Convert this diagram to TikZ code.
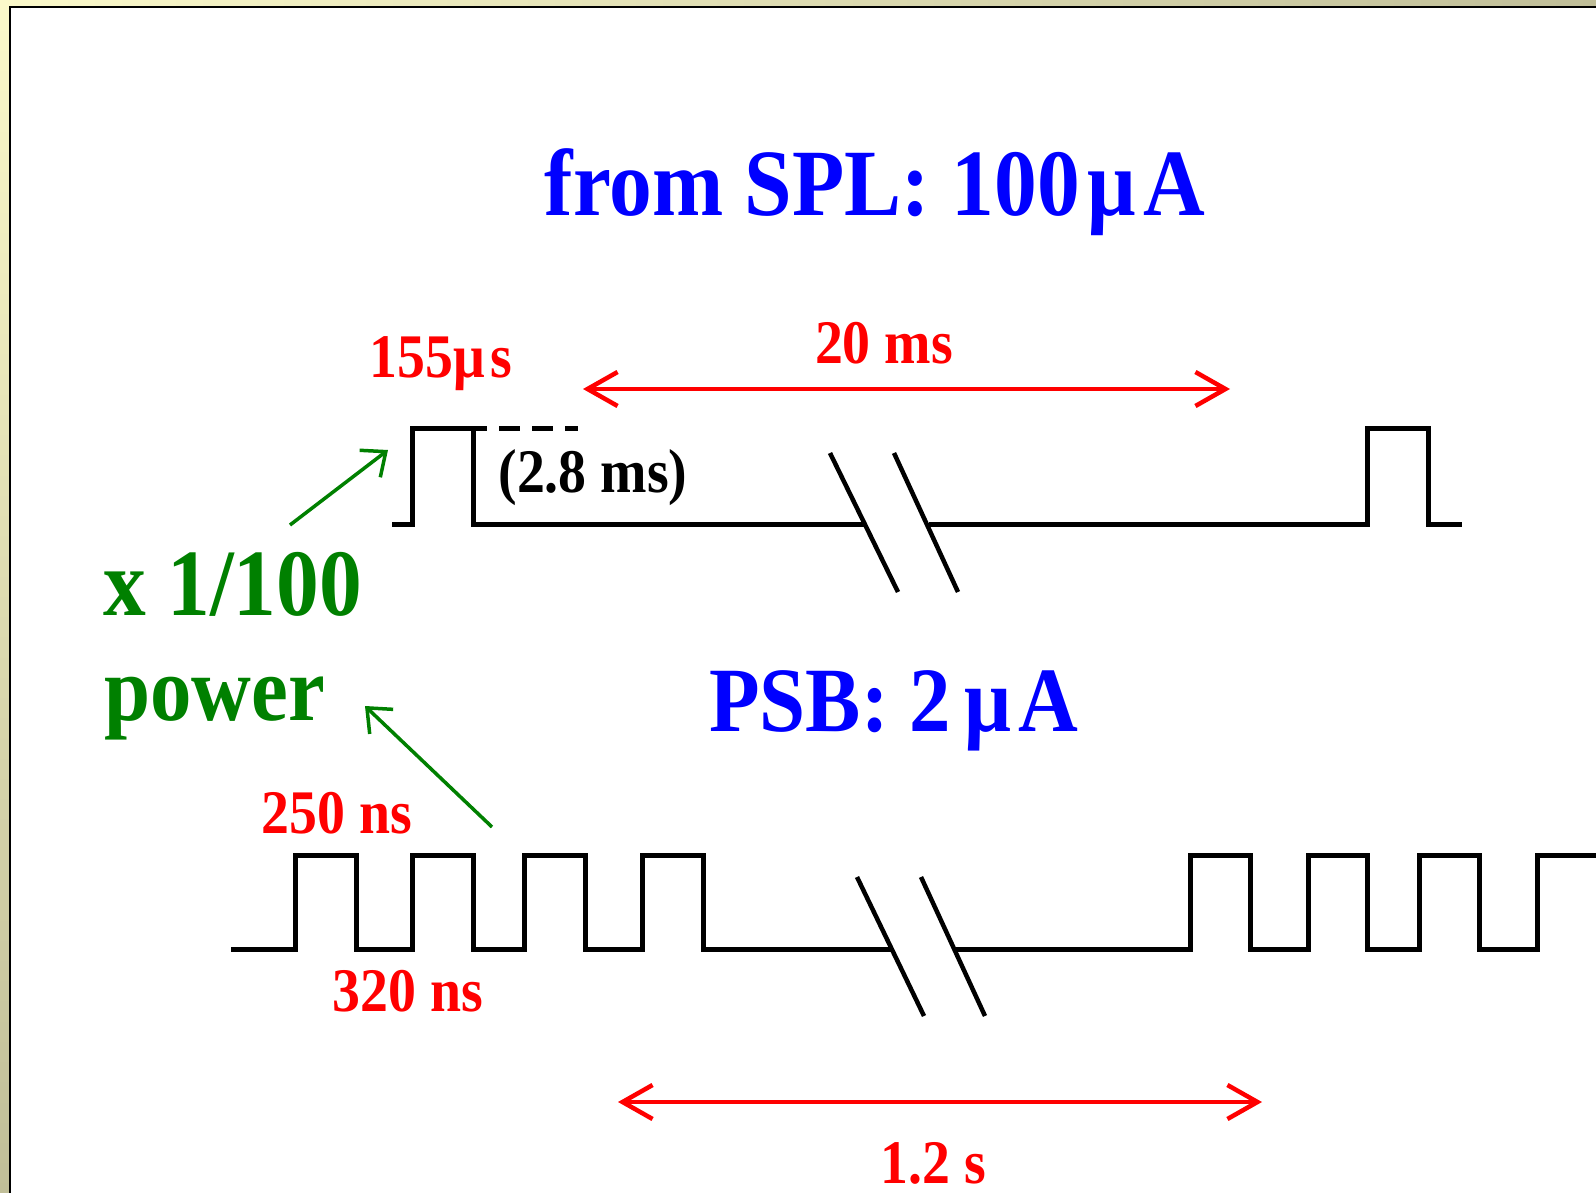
\documentclass[tikz,border=0pt]{standalone}
\usepackage{fontspec}
\setmainfont[FakeStretch=0.9]{Liberation Serif}
\usepackage{xcolor}
\usepackage{tikz}
\usetikzlibrary{calc,arrows.meta}

\definecolor{paleyel}{HTML}{FBF9CA}
\definecolor{olive}{HTML}{C0BE98}
\definecolor{darkgrn}{HTML}{008000}

\begin{document}
\begin{tikzpicture}[x=1pt, y=-1pt,
		sig/.style={line width=5pt, line join=miter, line cap=butt},
		dimarrow/.style={red, line width=4.5pt, {Straight Barb[length=30pt,width=34pt]}-{Straight Barb[length=30pt,width=34pt]}},
		hint/.style={darkgrn, line width=3.5pt, -{Straight Barb[length=20pt,width=34pt]}},
		bigtxt/.style={inner sep=0pt, anchor=base, font=\fontsize{92}{96}\selectfont\bfseries},
		smalltxt/.style={inner sep=0pt, anchor=base, font=\fontsize{62}{66}\selectfont\bfseries}]
	
	% --- 1. 页面与边框 ---
	\useasboundingbox (0,0) rectangle (1596,1193);
	\fill[white] (0,0) rectangle (1596,1193);
	\shade[left color=paleyel, right color=olive] (0,0) rectangle (1596,6);
	\shade[top color=paleyel, bottom color=olive] (0,0) rectangle (9,1193);
	\draw[line width=2pt] (10,1193) -- (10,7) -- (1596,7);
	
	% --- 2. 标题 ---
	\node[bigtxt, blue, font=\fontsize{95}{100}\selectfont\bfseries] (spl) at (875,216) {from SPL: 100\hspace{0.08em}μ\hspace{0.08em}A};
	\node[bigtxt, blue] (psb) at (894,731) {PSB: 2\hspace{0.15em}μ\hspace{0.08em}A};
	
	% --- 3. 上方脉冲 (SPL) ---
	\def\lo{524}
	\def\hi{428}
	\draw[sig] (392,\lo) -- (412,\lo) -- (412,\hi) -- (487,\hi);
	\draw[sig] (473,\hi) -- (473,\lo) -- (865,\lo);
	\draw[sig, dash pattern=on 21pt off 12pt, dash phase=21pt] (487,\hi) -- (578,\hi);
	\draw[sig] (929,\lo) -- (1367,\lo) -- (1367,\hi) -- (1428,\hi) -- (1428,\lo) -- (1462,\lo);
	% 断开符号
	\draw[line width=4.5pt] (830,453) -- (898,592);
	\draw[line width=4.5pt] (894,453) -- (958,592);
	
	\node[smalltxt, red] (tpulse) at (441,377) {155μ\hspace{0.08em}s};
	\node[smalltxt, red] (tperiod) at (884,363) {20 ms};
	\node[smalltxt, black] (tflat) at (593,492) {(2.8 ms)};
	
	\coordinate (ta) at (583,389);
	\coordinate (tb) at (1230,389);
	\draw[dimarrow] (ta) -- (tb);
	
	% --- 4. 下方脉冲 (PSB) ---
	\def\blo{949}
	\def\bhi{855}
	\draw[sig] (231,\blo)
		\foreach \u/\d in {295/356, 412/473, 524/585, 642/703} {
			-- (\u,\blo) -- (\u,\bhi) -- (\d,\bhi) -- (\d,\blo)
		} -- (892,\blo);
	\draw[sig] (956,\blo)
		\foreach \u/\d in {1190/1250, 1308/1367, 1419/1479} {
			-- (\u,\blo) -- (\u,\bhi) -- (\d,\bhi) -- (\d,\blo)
		} -- (1537,\blo) -- (1537,\bhi) -- (1600,\bhi);
	% 断开符号
	\draw[line width=4.5pt] (857,877) -- (924,1016);
	\draw[line width=4.5pt] (921,877) -- (985,1016);
	
	\node[smalltxt, red] (bpulse) at (337,833) {250 ns};
	\node[smalltxt, red] (bgap) at (408,1011) {320 ns};
	\node[smalltxt, red] (bperiod) at (933,1183) {1.2 s};
	
	\coordinate (ba) at (618,1102);
	\coordinate (bb) at (1262,1102);
	\draw[dimarrow] (ba) -- (bb);
	
	% --- 5. 功率比 ---
	\node[bigtxt, darkgrn, anchor=base west, font=\fontsize{95}{100}\selectfont\bfseries] (ratio) at (103,615) {x 1/100};
	\node[bigtxt, darkgrn, anchor=base west] (power) at (104,720) {power};
	
	\coordinate (ga) at (290,525);
	\coordinate (gb) at (388,450);
	\coordinate (gc) at (492,827);
	\coordinate (gd) at (365,706);
	\draw[hint] (ga) -- (gb);
	\draw[hint] (gc) -- (gd);
	
\end{tikzpicture}
\end{document}
